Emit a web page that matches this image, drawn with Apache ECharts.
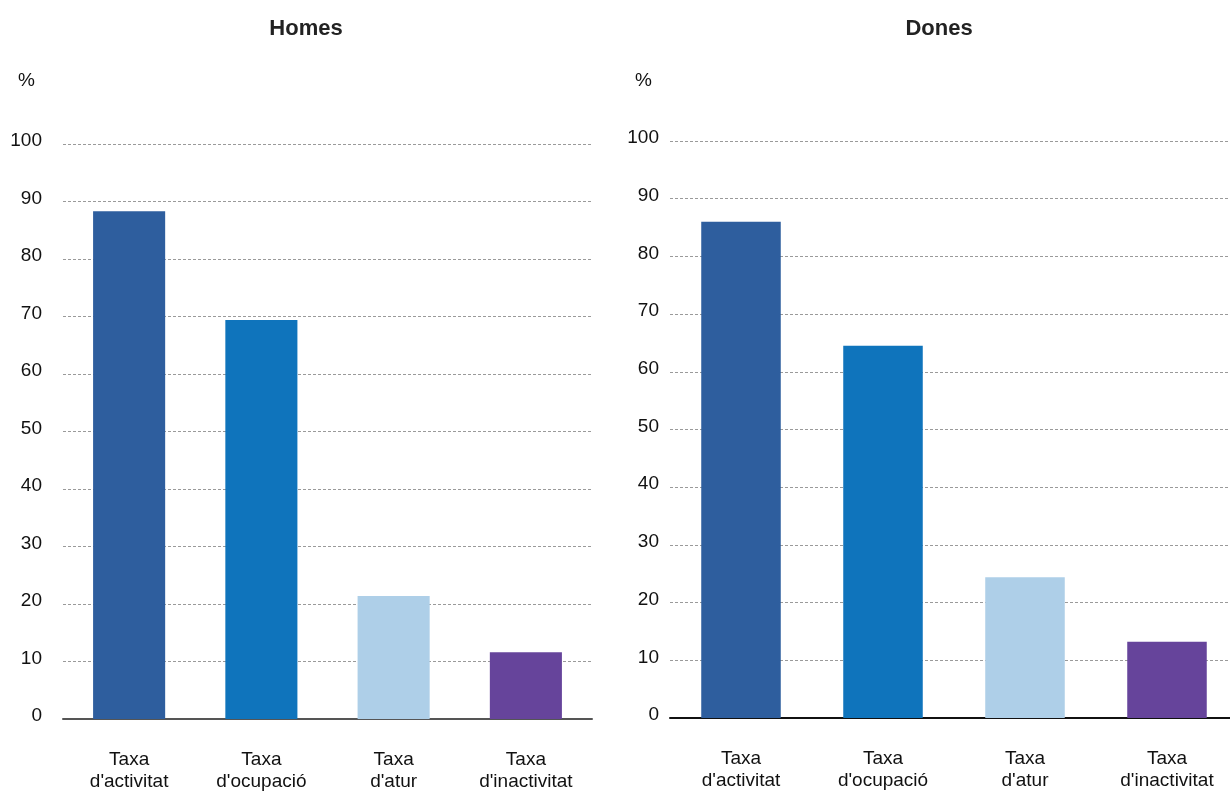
<!DOCTYPE html>
<html>
<head>
<meta charset="utf-8">
<script src="https://cdn.jsdelivr.net/npm/echarts@6/dist/echarts.min.js"></script>
<style>
html,body{margin:0;padding:0;background:#fff;}
#chart{width:1230px;height:792px;}
</style>
</head>
<body>
<div id="chart"></div>
<script>
const categories = ["Taxa\nd'activitat", "Taxa\nd'ocupació", "Taxa\nd'atur", "Taxa\nd'inactivitat"];
const homesValues = [88.3, 69.4, 21.4, 11.6];
const donesValues = [86.0, 64.5, 24.4, 13.2];
const panelTitles = ["Homes", "Dones"];
const barColors = ["#2e5e9e", "#0f74bc", "#aecfe8", "#66449b"];

const FONT = "'Liberation Sans', Arial, Helvetica, sans-serif";
const chart = echarts.init(document.getElementById('chart'), null, {renderer: 'canvas'});

function yAxisCfg(gridIndex, margin) {
  return {
    type: 'value', gridIndex: gridIndex, min: 0, max: 100, interval: 10,
    axisLine: {show: false}, axisTick: {show: false},
    axisLabel: {color: '#111', fontFamily: FONT, fontSize: 19, margin: margin,
                verticalAlign: 'bottom', lineHeight: 6},
    splitLine: {show: true, lineStyle: {color: '#9a9a9a', type: [3, 2], width: 1}}
  };
}
function xAxisCfg(gridIndex, lineColor) {
  return {
    type: 'category', gridIndex: gridIndex, data: categories,
    axisLine: {show: true, lineStyle: {color: lineColor, width: 2}},
    axisTick: {show: false},
    axisLabel: {color: '#111', fontFamily: FONT, fontSize: 19, lineHeight: 22, margin: 30, interval: 0}
  };
}
function itemColors(values) {
  return values.map((v, i) => ({value: v, itemStyle: {color: barColors[i]}}));
}

chart.setOption({
  animation: false,
  backgroundColor: '#fff',
  title: [
    {text: panelTitles[0], left: 301, top: 13, textAlign: 'center',
     textStyle: {fontFamily: FONT, fontSize: 22, fontWeight: 'bold', color: '#222'}},
    {text: panelTitles[1], left: 934, top: 13, textAlign: 'center',
     textStyle: {fontFamily: FONT, fontSize: 22, fontWeight: 'bold', color: '#222'}}
  ],
  graphic: [
    {type: 'text', left: 18, top: 71, style: {text: '%', font: '19px ' + FONT, fill: '#111'}},
    {type: 'text', left: 635, top: 71, style: {text: '%', font: '19px ' + FONT, fill: '#111'}}
  ],
  grid: [
    {left: 63, width: 529, top: 144, height: 575, containLabel: false, outerBoundsMode: 'none'},
    {left: 670, width: 568, top: 141, height: 577, containLabel: false, outerBoundsMode: 'none'}
  ],
  xAxis: [xAxisCfg(0, '#555'), xAxisCfg(1, '#111')],
  yAxis: [yAxisCfg(0, 21), yAxisCfg(1, 11)],
  series: [
    {type: 'bar', xAxisIndex: 0, yAxisIndex: 0, barWidth: '54.5%', data: itemColors(homesValues)},
    {type: 'bar', xAxisIndex: 1, yAxisIndex: 1, barWidth: '56%', data: itemColors(donesValues)}
  ]
});
</script>
</body>
</html>
